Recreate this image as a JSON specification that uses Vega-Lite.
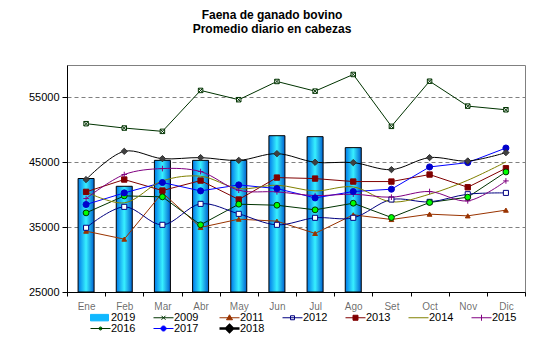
{
  "$schema": "https://vega.github.io/schema/vega-lite/v6.json",
  "autosize": "none",
  "width": 458,
  "height": 227,
  "padding": {"left": 67, "top": 65, "right": 12, "bottom": 51},
  "background": "white",
  "config": {
    "font": "Liberation Sans",
    "view": {"stroke": "#808080", "strokeWidth": 1}
  },
  "title": {
    "text": ["Faena de ganado bovino", "Promedio diario en cabezas"],
    "font": "Liberation Sans",
    "fontSize": 12,
    "fontWeight": "bold",
    "color": "#000000",
    "anchor": "middle",
    "dx": -24,
    "offset": 29,
    "lineHeight": 14.5
  },
  "datasets": {
    "bars": [
      {"m": "Ene", "v": 42500}, {"m": "Feb", "v": 41300}, {"m": "Mar", "v": 45300}, {"m": "Abr", "v": 45300},
      {"m": "May", "v": 45300}, {"m": "Jun", "v": 49100}, {"m": "Jul", "v": 48950}, {"m": "Ago", "v": 47260}
    ],
    "lines": [
      {"m": "Ene", "y": "2009", "v": 50950}, {"m": "Feb", "y": "2009", "v": 50280}, {"m": "Mar", "y": "2009", "v": 49770}, {"m": "Abr", "y": "2009", "v": 56080}, {"m": "May", "y": "2009", "v": 54650}, {"m": "Jun", "y": "2009", "v": 57460}, {"m": "Jul", "y": "2009", "v": 55970}, {"m": "Ago", "y": "2009", "v": 58540}, {"m": "Set", "y": "2009", "v": 50540}, {"m": "Oct", "y": "2009", "v": 57500}, {"m": "Nov", "y": "2009", "v": 53660}, {"m": "Dic", "y": "2009", "v": 53100},
      {"m": "Ene", "y": "2011", "v": 34380}, {"m": "Feb", "y": "2011", "v": 33150}, {"m": "Mar", "y": "2011", "v": 40300}, {"m": "Abr", "y": "2011", "v": 34950}, {"m": "May", "y": "2011", "v": 36230}, {"m": "Jun", "y": "2011", "v": 35920}, {"m": "Jul", "y": "2011", "v": 34030}, {"m": "Ago", "y": "2011", "v": 36900}, {"m": "Set", "y": "2011", "v": 36180}, {"m": "Oct", "y": "2011", "v": 37000}, {"m": "Nov", "y": "2011", "v": 36740}, {"m": "Dic", "y": "2011", "v": 37620},
      {"m": "Ene", "y": "2012", "v": 34900}, {"m": "Feb", "y": "2012", "v": 38130}, {"m": "Mar", "y": "2012", "v": 35360}, {"m": "Abr", "y": "2012", "v": 38590}, {"m": "May", "y": "2012", "v": 37050}, {"m": "Jun", "y": "2012", "v": 35360}, {"m": "Jul", "y": "2012", "v": 36440}, {"m": "Ago", "y": "2012", "v": 36440}, {"m": "Set", "y": "2012", "v": 39260}, {"m": "Oct", "y": "2012", "v": 38900}, {"m": "Nov", "y": "2012", "v": 40080}, {"m": "Dic", "y": "2012", "v": 40280},
      {"m": "Ene", "y": "2013", "v": 40440}, {"m": "Feb", "y": "2013", "v": 42340}, {"m": "Mar", "y": "2013", "v": 40640}, {"m": "Abr", "y": "2013", "v": 42180}, {"m": "May", "y": "2013", "v": 39260}, {"m": "Jun", "y": "2013", "v": 42640}, {"m": "Jul", "y": "2013", "v": 42490}, {"m": "Ago", "y": "2013", "v": 42030}, {"m": "Set", "y": "2013", "v": 42030}, {"m": "Oct", "y": "2013", "v": 43110}, {"m": "Nov", "y": "2013", "v": 41150}, {"m": "Dic", "y": "2013", "v": 44080},
      {"m": "Ene", "y": "2014", "v": 40440}, {"m": "Feb", "y": "2014", "v": 38740}, {"m": "Mar", "y": "2014", "v": 42130}, {"m": "Abr", "y": "2014", "v": 42850}, {"m": "May", "y": "2014", "v": 40950}, {"m": "Jun", "y": "2014", "v": 41460}, {"m": "Jul", "y": "2014", "v": 40590}, {"m": "Ago", "y": "2014", "v": 41200}, {"m": "Set", "y": "2014", "v": 38900}, {"m": "Oct", "y": "2014", "v": 40080}, {"m": "Nov", "y": "2014", "v": 42230}, {"m": "Dic", "y": "2014", "v": 45050},
      {"m": "Ene", "y": "2015", "v": 39410}, {"m": "Feb", "y": "2015", "v": 43110}, {"m": "Mar", "y": "2015", "v": 44030}, {"m": "Abr", "y": "2015", "v": 43570}, {"m": "May", "y": "2015", "v": 40690}, {"m": "Jun", "y": "2015", "v": 40440}, {"m": "Jul", "y": "2015", "v": 39870}, {"m": "Ago", "y": "2015", "v": 40080}, {"m": "Set", "y": "2015", "v": 39620}, {"m": "Oct", "y": "2015", "v": 40490}, {"m": "Nov", "y": "2015", "v": 39050}, {"m": "Dic", "y": "2015", "v": 42130},
      {"m": "Ene", "y": "2016", "v": 37200}, {"m": "Feb", "y": "2016", "v": 39820}, {"m": "Mar", "y": "2016", "v": 39670}, {"m": "Abr", "y": "2016", "v": 35360}, {"m": "May", "y": "2016", "v": 38540}, {"m": "Jun", "y": "2016", "v": 38380}, {"m": "Jul", "y": "2016", "v": 37670}, {"m": "Ago", "y": "2016", "v": 38690}, {"m": "Set", "y": "2016", "v": 36490}, {"m": "Oct", "y": "2016", "v": 38800}, {"m": "Nov", "y": "2016", "v": 39620}, {"m": "Dic", "y": "2016", "v": 43510},
      {"m": "Ene", "y": "2017", "v": 38490}, {"m": "Feb", "y": "2017", "v": 40280}, {"m": "Mar", "y": "2017", "v": 41880}, {"m": "Abr", "y": "2017", "v": 40590}, {"m": "May", "y": "2017", "v": 41510}, {"m": "Jun", "y": "2017", "v": 40950}, {"m": "Jul", "y": "2017", "v": 39510}, {"m": "Ago", "y": "2017", "v": 40490}, {"m": "Set", "y": "2017", "v": 40850}, {"m": "Oct", "y": "2017", "v": 44280}, {"m": "Nov", "y": "2017", "v": 44950}, {"m": "Dic", "y": "2017", "v": 47200},
      {"m": "Ene", "y": "2018", "v": 42340}, {"m": "Feb", "y": "2018", "v": 46690}, {"m": "Mar", "y": "2018", "v": 45560}, {"m": "Abr", "y": "2018", "v": 45720}, {"m": "May", "y": "2018", "v": 45300}, {"m": "Jun", "y": "2018", "v": 46330}, {"m": "Jul", "y": "2018", "v": 45000}, {"m": "Ago", "y": "2018", "v": 44950}, {"m": "Set", "y": "2018", "v": 43870}, {"m": "Oct", "y": "2018", "v": 45720}, {"m": "Nov", "y": "2018", "v": 45200}, {"m": "Dic", "y": "2018", "v": 46490}
    ]
  },
  "encoding": {
    "x": {
      "field": "m", "type": "ordinal",
      "sort": ["Ene", "Feb", "Mar", "Abr", "May", "Jun", "Jul", "Ago", "Set", "Oct", "Nov", "Dic"],
      "scale": {"domain": ["Ene", "Feb", "Mar", "Abr", "May", "Jun", "Jul", "Ago", "Set", "Oct", "Nov", "Dic"], "paddingInner": 0, "paddingOuter": 0},
      "axis": {"title": null, "labelAngle": 0, "labelFont": "Liberation Sans", "labelFontSize": 10, "labelFontWeight": "normal", "labelColor": "#000000", "labelOpacity": 0.6, "labelPadding": 5, "tickBand": "extent", "tickSize": 4, "tickColor": "#000000", "domainColor": "#000000", "grid": false}
    },
    "y": {
      "field": "v", "type": "quantitative",
      "scale": {"domain": [25000, 60000], "nice": false, "zero": false},
      "axis": {"title": null, "values": [25000, 35000, 45000, 55000], "format": "d", "labelFontSize": 11, "labelColor": "#000000", "labelPadding": 3, "tickSize": 5, "tickColor": "#000000", "domainColor": "#000000", "grid": true, "gridColor": "#808080", "gridDash": [4, 3], "gridWidth": 1}
    }
  },
  "layer": [
    {
      "data": {"name": "bars"},
      "mark": {
        "type": "bar",
        "width": 16,
        "stroke": "#000000",
        "strokeWidth": 1,
        "color": {"gradient": "linear", "x1": 0, "x2": 1, "y1": 0, "y2": 0,
          "stops": [{"offset": 0, "color": "#0078e8"}, {"offset": 0.5, "color": "#38f0ff"}, {"offset": 1, "color": "#0060d0"}]}
      },
      "encoding": {
        "y2": {"datum": 25000}
      }
    },
    {
      "data": {"name": "lines"},
      "transform": [{"filter": "indexof(['2009','2011','2013','2016','2017'], datum.y) >= 0"}],
      "mark": {"type": "line", "interpolate": "linear", "strokeWidth": 1},
      "encoding": {
        "color": {
          "field": "y", "type": "nominal",
          "scale": {
            "domain": ["2019", "2009", "2011", "2012", "2013", "2014", "2015", "2016", "2017", "2018"],
            "range": ["#10b8ff", "#003300", "#993300", "#000080", "#800000", "#808000", "#800080", "#003300", "#0000ff", "#000000"]
          },
          "legend": {
            "orient": "none", "legendX": 24, "legendY": 247,
            "direction": "horizontal", "columns": 7, "title": null,
            "labelFont": "Liberation Sans", "labelFontSize": 11, "labelColor": "#000000",
            "symbolSize": 100, "labelOffset": 9, "columnPadding": 15, "rowPadding": -3,
            "encode": {
              "symbols": {
                "update": {
                  "shape": {"signal": "{'2019':'M-1.2,-0.65H2.4V0.65H-1.2Z','2009':'M-1.2,0H2.8M0.4,-0.4L1.2,0.4M0.4,0.4L1.2,-0.4','2011':'M-1.2,0H2.8M0.8,-0.6L1.4,0.4H0.2Z','2012':'M-1.2,0H2.8M0.4,-0.4H1.2V0.4H0.4Z','2013':'M-1.2,0H2.8M0.3,-0.5H1.3V0.5H0.3Z','2014':'M-1.2,0H2.8','2015':'M-1.2,0H2.8M0.8,-0.6V0.6','2016':'M-1.2,0H2.8M0.5,0A0.3,0.3 0 1,0 1.1,0A0.3,0.3 0 1,0 0.5,0Z','2017':'M-1.2,0H2.8M0.3,0A0.5,0.5 0 1,0 1.3,0A0.5,0.5 0 1,0 0.3,0Z','2018':'M-1.2,0H2.8M0.8,-0.7L1.5,0L0.8,0.7L0.1,0Z'}[datum.value]"},
                  "fill": {"signal": "{'2019':'#10b8ff','2009':'transparent','2011':'#993300','2012':'#ffffff','2013':'#800000','2014':'transparent','2015':'transparent','2016':'#00ff00','2017':'#0000ff','2018':'#404040'}[datum.value]"},
                  "stroke": {"signal": "{'2019':'#000080','2009':'#003300','2011':'#993300','2012':'#000080','2013':'#800000','2014':'#808000','2015':'#800080','2016':'#003300','2017':'#0000ff','2018':'#000000'}[datum.value]"},
                  "strokeWidth": {"signal": "datum.value == '2018' ? 2.5 : 1"},
                  "opacity": {"value": 1},
                  "fillOpacity": {"value": 1},
                  "size": {"value": 100}
                }
              }
            }
          }
        }
      }
    },
    {
      "data": {"name": "lines"},
      "transform": [{"filter": "indexof(['2012','2014','2015','2018'], datum.y) >= 0"}],
      "mark": {"type": "line", "interpolate": "catmull-rom"},
      "encoding": {
        "color": {"field": "y", "type": "nominal"},
        "strokeWidth": {
          "field": "y", "type": "nominal",
          "scale": {"domain": ["2012", "2014", "2015", "2018"], "range": [1, 1, 1, 2.5]},
          "legend": null
        }
      }
    },
    {
      "data": {"name": "lines"},
      "transform": [{"filter": "datum.y != '2014'"}],
      "mark": {"type": "point", "strokeWidth": 1, "opacity": 1},
      "encoding": {
        "shape": {
          "field": "y", "type": "nominal",
          "scale": {
            "domain": ["2009", "2011", "2012", "2013", "2015", "2016", "2017", "2018"],
            "range": ["M-1,-1H1V1H-1ZM-1,-1L1,1M-1,1L1,-1", "triangle-up", "square", "square", "M0,-1V1M-1,0H1", "circle", "circle", "diamond"]
          },
          "legend": null
        },
        "fill": {
          "field": "y", "type": "nominal",
          "scale": {
            "domain": ["2009", "2011", "2012", "2013", "2015", "2016", "2017", "2018"],
            "range": ["#ffffff", "#993300", "#ffffff", "#800000", "transparent", "#00ff00", "#0000cc", "#404040"]
          },
          "legend": null
        },
        "stroke": {
          "field": "y", "type": "nominal",
          "scale": {
            "domain": ["2009", "2011", "2012", "2013", "2015", "2016", "2017", "2018"],
            "range": ["#003300", "#993300", "#000080", "#800000", "#800080", "#003300", "#0000cc", "#303030"]
          },
          "legend": null
        },
        "size": {
          "field": "y", "type": "nominal",
          "scale": {
            "domain": ["2009", "2011", "2012", "2013", "2015", "2016", "2017", "2018"],
            "range": [20, 40, 20, 36, 36, 14, 45, 60]
          },
          "legend": null
        }
      }
    }
  ]
}
